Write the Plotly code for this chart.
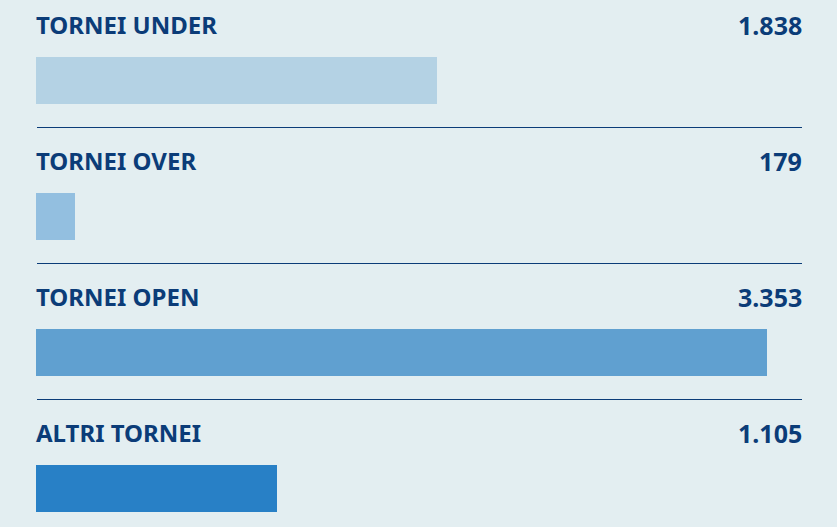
import plotly.graph_objects as go

categories = ["TORNEI UNDER", "TORNEI OVER", "TORNEI OPEN", "ALTRI TORNEI"]
values = [1838, 179, 3353, 1105]
value_labels = ["1.838", "179", "3.353", "1.105"]
bar_colors = ["#b4d2e4", "#93bfe0", "#60a0d0", "#2880c6"]

W, H = 837, 527
BG = "#e3eef1"
TXT = "#0b3c78"
k = 0.218  # px per unit
left_px = 36

fig = go.Figure()
fig.add_trace(go.Bar(
    x=values, y=list(range(len(categories))), orientation="h",
    marker=dict(color=bar_colors, line=dict(width=0)),
    width=47 / 136, hoverinfo="skip", showlegend=False,
))

pitch = 136.0
y_top = 0 - 80.5 / pitch
y_bot = 3 + (H - 488.5) / pitch

annotations = []
shapes = []
font = dict(family="Noto Sans", size=24, color=TXT, weight="bold")
for i, (c, vl) in enumerate(zip(categories, value_labels)):
    annotations.append(dict(
        x=left_px / W, xref="paper", y=i, yref="y", yshift=56,
        text=c, showarrow=False, xanchor="left", yanchor="middle",
        font=font, xshift=-2,
    ))
    annotations.append(dict(
        x=802 / W, xref="paper", y=i, yref="y", yshift=56,
        text=vl, showarrow=False, xanchor="right", yanchor="middle",
        font=dict(family="Noto Sans", size=25, color=TXT, weight="bold"), xshift=2,
    ))
    if i < len(categories) - 1:
        shapes.append(dict(
            type="line", xref="paper", yref="y",
            x0=37 / W, x1=802 / W, y0=i + 47 / pitch, y1=i + 47 / pitch,
            line=dict(color=TXT, width=1),
        ))

fig.update_layout(
    width=W, height=H,
    margin=dict(l=0, r=0, t=0, b=0),
    paper_bgcolor=BG, plot_bgcolor=BG,
    xaxis=dict(range=[-left_px / k, (W - left_px) / k], visible=False, fixedrange=True),
    yaxis=dict(range=[y_bot, y_top], visible=False, fixedrange=True),
    annotations=annotations, shapes=shapes,
    bargap=0,
)

fig.write_html(
    "out.html",
    config={"displayModeBar": False},
    post_script="document.body.style.margin='0';document.body.style.background='%s';" % BG,
)
